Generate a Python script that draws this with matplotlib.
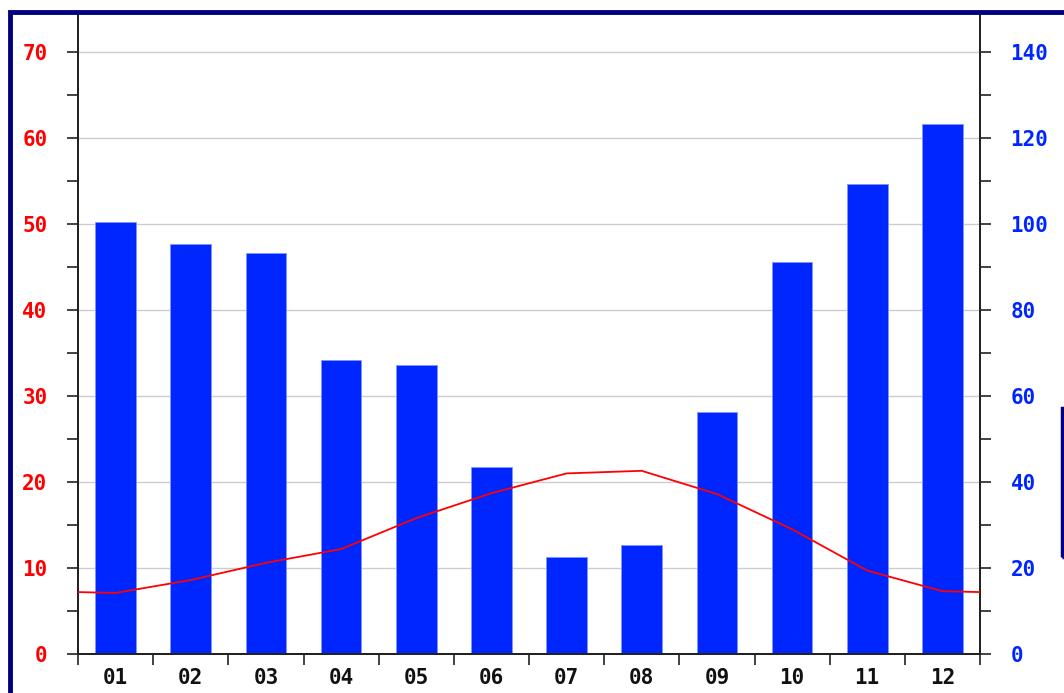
import numpy as np
import matplotlib
matplotlib.use('Agg')
import matplotlib.pyplot as plt
from matplotlib.patches import Rectangle

months = ['01', '02', '03', '04', '05', '06', '07', '08', '09', '10', '11', '12']
precip = [100.5, 95.3, 93.3, 68.4, 67.2, 43.5, 22.6, 25.3, 56.3, 91.2, 109.3, 123.3]
temp = [7.1, 8.6, 10.6, 12.2, 15.8, 18.7, 21.0, 21.3, 18.6, 14.5, 9.7, 7.3]

red = '#ff0000'
blue = '#0026ff'
navy = '#000080'

fig = plt.figure(figsize=(10.64, 6.93), dpi=100)
W, H = 1064.0, 693.0

# axes box in pixels: x 78..980, y(bottom)=654, 10 deg = 86 px
left, right, bottom = 78, 980, 654
px10 = 86.0
ax = fig.add_axes([left / W, (H - bottom) / H, (right - left) / W, 8 * px10 / H])
ax2 = ax.twinx()

xc = np.arange(len(months)) + 0.5
ax2.bar(xc, precip, width=0.54, color=blue, edgecolor='#7f95ff', linewidth=0.6, zorder=2)

edge = (temp[0] + temp[-1]) / 2.0
tx = np.concatenate([[0], xc, [len(months)]])
ty = np.concatenate([[edge], temp, [edge]])
ax.plot(tx, ty, color=red, lw=1.3, zorder=5)

ax.set_xlim(0, 12)
ax.set_ylim(0, 80)
ax2.set_ylim(0, 160)

ax.set_zorder(ax2.get_zorder() + 1)
ax.patch.set_visible(False)

ax.set_yticks(np.arange(0, 71, 10))
ax.set_yticks(np.arange(5, 80, 10), minor=True)
ax2.set_yticks(np.arange(0, 141, 20))
ax2.set_yticks(np.arange(10, 160, 20), minor=True)
ax.set_xticks(np.arange(0, 13))
ax.set_xticklabels([])
ax.set_xticks(xc, minor=True)
ax.set_xticklabels(months, minor=True)

for y in np.arange(10, 80, 10):
    ax2.axhline(y * 2, color='#cccccc', lw=1.0, zorder=0)

font = dict(family='DejaVu Sans Mono', weight='bold', size=15)
for lab in ax.get_yticklabels():
    lab.set(color=red, **font)
for lab in ax2.get_yticklabels():
    lab.set(color=blue, **font)
for lab in ax.get_xticklabels(minor=True):
    lab.set(color='#111111', **font)

ax.tick_params(axis='y', which='both', direction='out', length=8, width=1.2, color='#222222', pad=14)
ax2.tick_params(axis='y', which='both', direction='out', length=8, width=1.2, color='#222222', pad=14)
ax.tick_params(axis='x', which='major', direction='out', length=8, width=1.2, color='#222222')
ax.tick_params(axis='x', which='minor', length=0, pad=10)

for a in (ax, ax2):
    a.spines['top'].set_visible(False)
    for s in ('left', 'right', 'bottom'):
        a.spines[s].set_color('#222222')
        a.spines[s].set_linewidth(1.4)

# white strip above the cropped frame, navy frame and right legend box edge
fig.add_artist(Rectangle((0, (H - 11) / H), 1, 0.1, transform=fig.transFigure,
                         facecolor='white', edgecolor='none', zorder=9))
fig.add_artist(Rectangle((10 / W, -0.1), 1.2, (H - 12) / H + 0.1, transform=fig.transFigure,
                         fill=False, edgecolor=navy, lw=3.5, zorder=10))
fig.add_artist(Rectangle((1062 / W, (H - 557) / H), 0.1, (557 - 408) / H, transform=fig.transFigure,
                         fill=False, edgecolor=navy, lw=2.5, zorder=10))

fig.savefig('out.png', dpi=100)
